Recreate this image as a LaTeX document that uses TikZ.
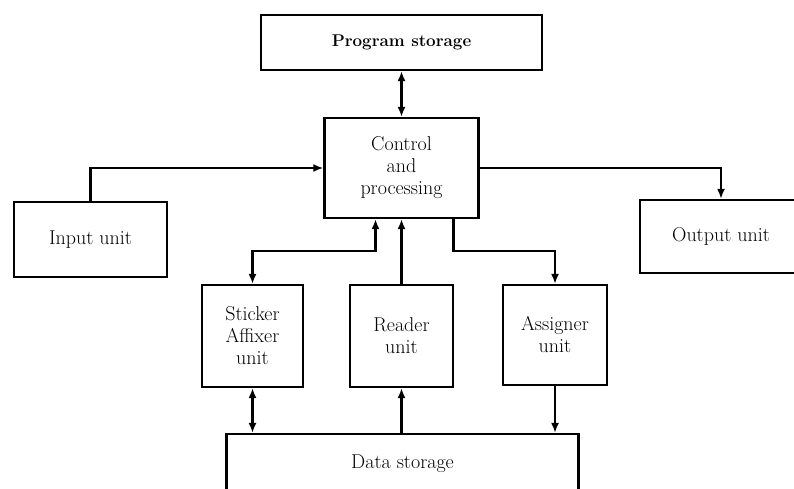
\documentclass[tikz,border=0pt]{standalone}
\usepackage{fontspec}
\usepackage{tikz}
\usetikzlibrary{positioning,arrows.meta}

\begin{document}
\begin{tikzpicture}[
  x=1pt, y=-1pt,
  box/.style={draw, line width=2.2pt, align=center, inner sep=0pt, font=\fontsize{20}{22}\selectfont},
  arrow/.style={-{Latex[length=10pt,width=8pt]}, line width=2.2pt},
  both/.style={{Latex[length=10pt,width=8pt]}-{Latex[length=10pt,width=8pt]}, line width=2.2pt}
]
\useasboundingbox (0,0) rectangle (794,489);
\clip (0,0) rectangle (794,489);

\node[box, minimum width=281pt, minimum height=55pt, font=\fontsize{17}{22}\selectfont\bfseries] (prog) at (401.5,42.5) {Program storage};
\node[box, minimum width=154pt, minimum height=100pt] (ctrl) at (401.5,168) {Control\\and\\processing};
\node[box, minimum width=153pt, minimum height=75pt] (input) at (90.5,239.5) {Input unit};
\node[box, minimum width=162pt, minimum height=73pt] (output) at (721,236.5) {Output unit};
\node[box, minimum width=101pt, minimum height=102pt] (sticker) at (252.5,336) {Sticker\\Affixer\\unit};
\node[box, minimum width=103pt, minimum height=102pt] (reader) at (401.5,336) {Reader\\unit};
\node[box, minimum width=104pt, minimum height=100pt] (assigner) at (555,335) {Assigner\\unit};
\node[box, minimum width=352pt, minimum height=60pt] (data) at (402.5,464) {Data storage};

\draw[both] (prog.south) -- (prog.south |- ctrl.north);
\draw[arrow] (input.north) |- (ctrl.west);
\draw[arrow] (ctrl.east) -| (output.north);
\draw[both] (sticker.north) -- ++(0,-33) -| ([xshift=-26pt]ctrl.south);
\draw[arrow] (reader.north) -- (reader.north |- ctrl.south);
\draw[arrow] ([xshift=52pt]ctrl.south) -- ++(0,32) -| (assigner.north);
\draw[both] (sticker.south) -- (sticker.south |- data.north);
\draw[arrow] (reader.south |- data.north) -- (reader.south);
\draw[arrow] (assigner.south) -- (assigner.south |- data.north);
\end{tikzpicture}
\end{document}
